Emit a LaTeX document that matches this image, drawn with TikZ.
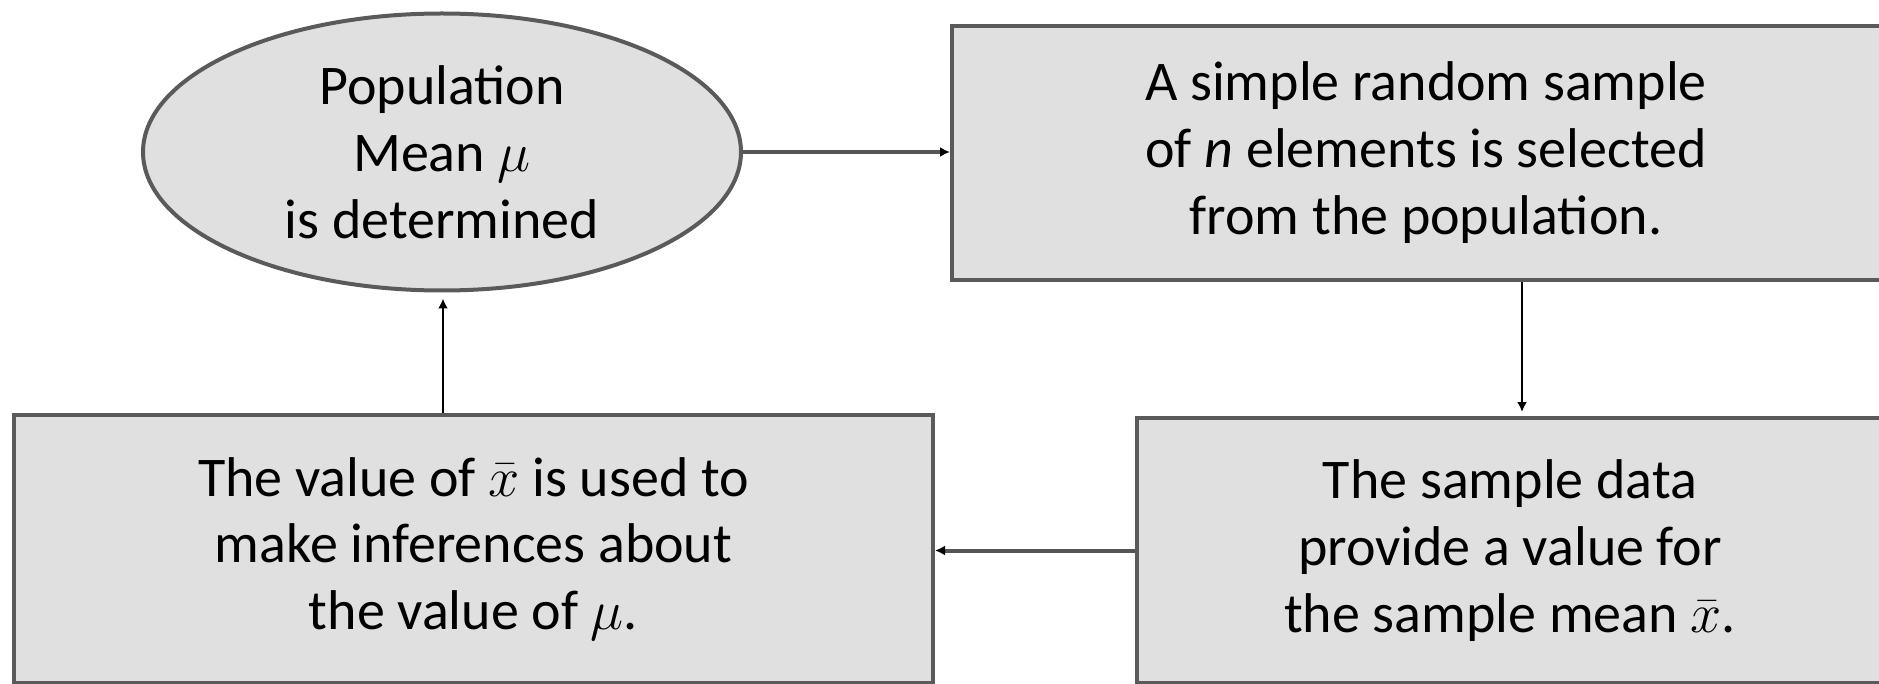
\RequirePackage{fix-cm}
\documentclass[tikz,border=0pt]{standalone}
\usepackage{fontspec}
\setmainfont{Carlito}
\usetikzlibrary{shapes.geometric,arrows.meta}
\definecolor{boxfill}{RGB}{224,224,224}
\definecolor{boxline}{RGB}{90,90,90}
\definecolor{conngray}{RGB}{85,85,85}
\begin{document}
\begin{tikzpicture}[x=1pt,y=-1pt,
  every node/.style={font=\fontsize{56}{67}\selectfont, align=center, inner sep=0pt},
  blk/.style={draw=boxline, line width=4pt, fill=boxfill, rectangle},
  oval/.style={draw=boxline, line width=4pt, fill=boxfill, ellipse},
  thickconn/.style={draw=conngray, line width=4pt, -{Latex[length=10pt,width=10pt,color=black]}},
  thinconn/.style={draw=black, line width=2pt, -{Latex[length=10pt,width=10pt]}}]
\useasboundingbox (0,0) rectangle (1879,684);
\clip (0,0) rectangle (1879,684);
\node[oval, minimum width=598pt, minimum height=277pt] (pop) at (442,152)
  {Population\\Mean $\mu$\\is determined};
\node[blk, minimum width=948pt, minimum height=254pt] (sample) at (1426,153)
  {A simple random sample\\of \textit{n} elements is selected\\from the population.};
\node[blk, minimum width=746pt, minimum height=265pt] (data) at (1510,550.5)
  {The sample data\\provide a value for\\the sample mean $\bar{x}$.};
\node[blk, minimum width=919pt, minimum height=268pt] (infer) at (473.5,549)
  {The value of $\bar{x}$ is used to\\make inferences about\\the value of $\mu$.};
\draw[thickconn] (pop.east) -- (pop.east -| sample.west);
\draw[thinconn, shorten >=4pt] ([xshift=96pt]sample.south) -- ([xshift=96pt]sample.south |- data.north);
\draw[thickconn] (data.west) -- (data.west -| infer.east);
\draw[thinconn, shorten >=6pt] ([xshift=-30.5pt]infer.north) -- ([xshift=-30.5pt]infer.north |- pop.south);
\end{tikzpicture}
\end{document}
